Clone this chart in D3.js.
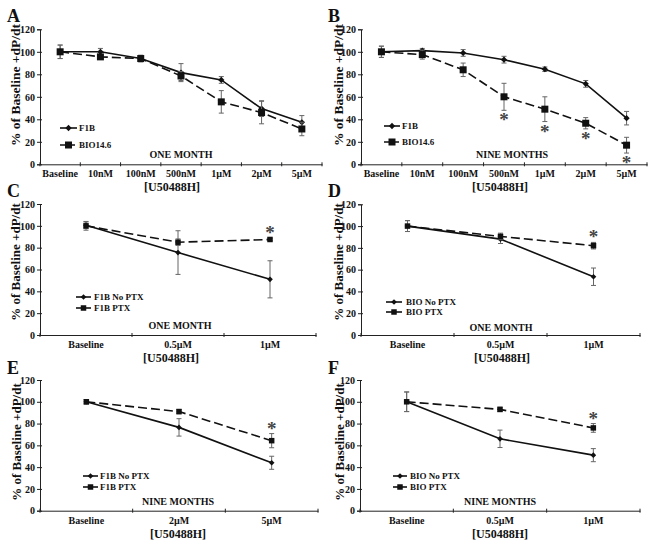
<!DOCTYPE html>
<html>
<head>
<meta charset="utf-8">
<script src="https://cdn.jsdelivr.net/npm/d3@7"></script>
<style>
  body { margin: 0; background: #fff; }
  svg text { font-family: "Liberation Serif", "Times New Roman", serif; fill: #111; }
</style>
</head>
<body>
<svg id="fig" width="649" height="546"></svg>
<script>
// categories
var catsDose = ["Baseline", "10nM", "100nM", "500nM", "1\u00b5M", "2\u00b5M", "5\u00b5M"];
var catsHalf = ["Baseline", "0.5\u00b5M", "1\u00b5M"];
var catsE = ["Baseline", "2\u00b5M", "5\u00b5M"];
var yTicks = [0, 20, 40, 60, 80, 100, 120];

// A - one month
var aF1B = [100, 100, 94, 81.5, 75, 49.5, 37.3];
var aF1BErr = [6, 3, 3, 8, 3, 7, 6];
var aBIO = [100, 95.5, 94, 78.5, 55.5, 46, 31.4];
var aBIOErr = [6, 2, 2, 4, 10, 10, 6];

// B - nine months
var bF1B = [100, 101, 99, 93, 84.5, 71.5, 41];
var bF1BErr = [5, 2, 3, 3, 2, 3, 6];
var bBIO = [100, 97.5, 84, 60, 49, 36.5, 17];
var bBIOErr = [5, 4, 6, 12, 11, 5, 7];
var bStars = ["500nM", "1\u00b5M", "2\u00b5M", "5\u00b5M"];

// C - F1B PTX, one month
var cNo = [100.5, 75.5, 51];
var cNoErr = [3, 20, 17];
var cPtx = [100, 85, 87.5];
var cPtxErr = [4, 3, 1];

// D - BIO PTX, one month
var dNo = [100, 88, 53.5];
var dNoErr = [5, 4, 8];
var dPtx = [100, 90.5, 82];
var dPtxErr = [5, 3, 3];

// E - F1B PTX, nine months
var eNo = [100, 76.5, 44];
var eNoErr = [2, 8, 6];
var ePtx = [100, 91, 64.3];
var ePtxErr = [2, 2, 6.5];

// F - BIO PTX, nine months
var fNo = [100, 66, 51];
var fNoErr = [9, 8, 6];
var fPtx = [100, 93, 76];
var fPtxErr = [9, 2, 4];

var svg = d3.select("#fig");

var panels = [
  {letter: "A", lx: 7, ly: 22, x0: 40, x1: 322, yt: 29.3, yb: 164.3, cats: catsDose,
   s1: {name: "F1B", v: aF1B, e: aF1BErr}, s2: {name: "BIO14.6", v: aBIO, e: aBIOErr},
   big: true, stars: [], starBelow: true,
   period: "ONE MONTH", px: 181, py: 158, legX: 60, legX2: 77, legT: 79, legY: [128, 145],
   titleX: 15, titleY: 85, utX: 172, utY: 191},
  {letter: "B", lx: 328, ly: 22, x0: 361, x1: 647, yt: 29.3, yb: 164.3, cats: catsDose,
   s1: {name: "F1B", v: bF1B, e: bF1BErr}, s2: {name: "BIO14.6", v: bBIO, e: bBIOErr},
   big: true, stars: bStars, starBelow: true,
   period: "NINE MONTHS", px: 512, py: 158, legX: 384, legX2: 400, legT: 402, legY: [126, 142],
   titleX: 338, titleY: 85, utX: 500, utY: 191},
  {letter: "C", lx: 7, ly: 197, x0: 40, x1: 316, yt: 204, yb: 335, cats: catsHalf,
   s1: {name: "F1B No PTX", v: cNo, e: cNoErr}, s2: {name: "F1B PTX", v: cPtx, e: cPtxErr},
   big: false, stars: ["1\u00b5M"], starBelow: false,
   period: "ONE MONTH", px: 180, py: 329, legX: 76, legX2: 91, legT: 94, legY: [297, 308],
   titleX: 15, titleY: 262, utX: 171, utY: 362},
  {letter: "D", lx: 328, ly: 197, x0: 361, x1: 640, yt: 204.3, yb: 335, cats: catsHalf,
   s1: {name: "BIO No PTX", v: dNo, e: dNoErr}, s2: {name: "BIO PTX", v: dPtx, e: dPtxErr},
   big: false, stars: ["1\u00b5M"], starBelow: false,
   period: "ONE MONTH", px: 501, py: 331, legX: 386, legX2: 402, legT: 406, legY: [302, 312],
   titleX: 338, titleY: 262, utX: 502, utY: 362},
  {letter: "E", lx: 7, ly: 374, x0: 40, x1: 318, yt: 380, yb: 510.7, cats: catsE,
   s1: {name: "F1B No PTX", v: eNo, e: eNoErr}, s2: {name: "F1B PTX", v: ePtx, e: ePtxErr},
   big: false, stars: ["5\u00b5M"], starBelow: false,
   period: "NINE MONTHS", px: 178, py: 505, legX: 83, legX2: 98, legT: 100, legY: [476, 487],
   titleX: 16, titleY: 442, utX: 178, utY: 538},
  {letter: "F", lx: 328, ly: 374, x0: 360, x1: 640, yt: 380, yb: 510.7, cats: catsHalf,
   s1: {name: "BIO No PTX", v: fNo, e: fNoErr}, s2: {name: "BIO PTX", v: fPtx, e: fPtxErr},
   big: false, stars: ["1\u00b5M"], starBelow: false,
   period: "NINE MONTHS", px: 500, py: 505, legX: 393, legX2: 407, legT: 410, legY: [476, 487],
   titleX: 339, titleY: 442, utX: 500, utY: 538}
];

function drawPanel(p) {
  var g = svg.append("g");
  var x = d3.scaleBand().domain(p.cats).range([p.x0, p.x1]).padding(0);
  var y = d3.scaleLinear().domain([0, 120]).range([p.yb, p.yt]);

  // panel letter
  g.append("text").attr("x", p.lx).attr("y", p.ly)
    .style("font-size", "18px").style("font-weight", "bold").text(p.letter);

  // y axis
  var ya = g.append("g").attr("transform", "translate(" + p.x0 + ",0)")
    .call(d3.axisLeft(y).tickValues(yTicks).tickSize(3).tickPadding(2));
  ya.select(".domain").attr("stroke", "#222");
  ya.selectAll(".tick line").attr("x2", -3).attr("x1", 2).attr("stroke", "#222");
  ya.selectAll(".tick text").style("font-size", "10px").style("font-weight", "bold")
    .style("font-family", "Liberation Serif");

  // x axis
  var xa = g.append("g").attr("transform", "translate(0," + p.yb + ")")
    .call(d3.axisBottom(x).tickSize(0).tickPadding(6));
  xa.select(".domain").attr("stroke", "#222");
  xa.selectAll(".tick text").style("font-size", "10px").style("font-weight", "bold")
    .style("font-family", "Liberation Serif");
  var bounds = p.cats.map(function (c) { return x(c); }).concat([p.x1]);
  g.selectAll(".bt").data(bounds).enter().append("line")
    .attr("x1", function (d) { return d; }).attr("x2", function (d) { return d; })
    .attr("y1", p.yb - 2).attr("y2", p.yb + 2).attr("stroke", "#222");

  // titles
  g.append("text")
    .attr("transform", "translate(" + p.titleX + "," + p.titleY + ") rotate(-90)")
    .attr("text-anchor", "middle").attr("dominant-baseline", "central")
    .style("font-size", p.big ? "13.5px" : "13px").style("font-weight", "bold")
    .text("% of Baseline +dP/dt");
  g.append("text").attr("x", p.utX).attr("y", p.utY).attr("text-anchor", "middle")
    .style("font-family", "Liberation Serif").style("font-weight", "bold")
    .style("font-size", "12px").text("[U50488H]");
  g.append("text").attr("x", p.px).attr("y", p.py).attr("text-anchor", "middle")
    .style("font-size", "10px").style("font-weight", "bold").text(p.period);

  var cx = function (i) { return x(p.cats[i]) + x.bandwidth() / 2; };
  var sq = p.big ? 7 : 5.5;
  var dm = p.big ? 5 : 4.5;

  function series(s, dashed, square) {
    var pts = s.v.map(function (v, i) { return {x: cx(i), v: v, e: s.e[i]}; });
    // error bars
    var eb = g.append("g").attr("stroke", "#666").attr("stroke-width", 1);
    pts.forEach(function (d) {
      if (!d.e) return;
      eb.append("line").attr("x1", d.x).attr("x2", d.x).attr("y1", y(d.v - d.e)).attr("y2", y(d.v + d.e));
      eb.append("line").attr("x1", d.x - 2.5).attr("x2", d.x + 2.5).attr("y1", y(d.v + d.e)).attr("y2", y(d.v + d.e));
      eb.append("line").attr("x1", d.x - 2.5).attr("x2", d.x + 2.5).attr("y1", y(d.v - d.e)).attr("y2", y(d.v - d.e));
    });
    var line = d3.line().x(function (d) { return d.x; }).y(function (d) { return y(d.v); });
    g.append("path").datum(pts).attr("d", line).attr("fill", "none")
      .attr("stroke", "#111").attr("stroke-width", 1.6)
      .attr("stroke-dasharray", dashed ? "9,4" : null);
    pts.forEach(function (d) { marker(d.x, y(d.v), square); });
  }

  function marker(mx, my, square) {
    if (square) {
      g.append("rect").attr("x", mx - sq / 2).attr("y", my - sq / 2)
        .attr("width", sq).attr("height", sq).attr("fill", "#111");
    } else {
      g.append("path").attr("d", d3.symbol(d3.symbolDiamond2, dm * dm)())
        .attr("transform", "translate(" + mx + "," + my + ")").attr("fill", "#111");
    }
  }

  series(p.s1, false, false);
  series(p.s2, true, true);

  // significance stars
  p.stars.forEach(function (c) {
    var i = p.cats.indexOf(c);
    var v = p.s2.v[i], e = p.s2.e[i];
    var cy = p.starBelow ? y(v - e) + 6 : y(v + e) - 9;
    g.append("text").attr("x", cx(i)).attr("y", cy + 10).attr("text-anchor", "middle")
      .style("font-family", "Liberation Serif").style("font-weight", "bold")
      .style("font-size", "19px").style("fill", "#444").text("*");
  });

  // legend
  p.legY.forEach(function (ly, k) {
    var s = k === 0 ? p.s1 : p.s2;
    g.append("line").attr("x1", p.legX).attr("x2", p.legX2).attr("y1", ly).attr("y2", ly)
      .attr("stroke", "#111").attr("stroke-width", 1.6)
      .attr("stroke-dasharray", k === 1 && p.big ? "6,3" : null);
    marker((p.legX + p.legX2) / 2, ly, k === 1);
    g.append("text").attr("x", p.legT).attr("y", ly).attr("dominant-baseline", "central")
      .style("font-size", "9px").style("font-weight", "bold").text(s.name);
  });
}

panels.forEach(drawPanel);
</script>
</body>
</html>
